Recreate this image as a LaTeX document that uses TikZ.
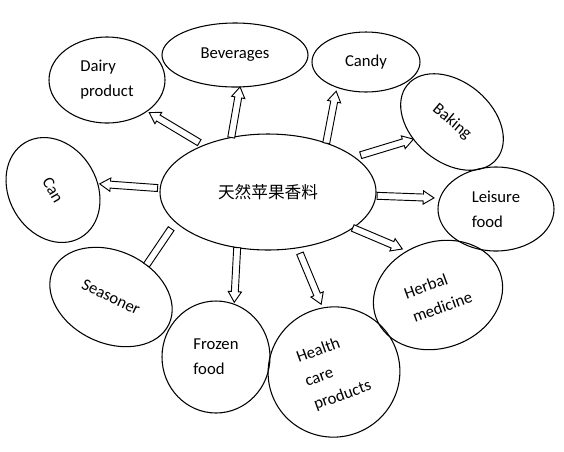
\documentclass[tikz,border=0pt]{standalone}
\usepackage{fontspec}
\setmainfont{Carlito}
\newfontfamily\cjk{Noto Sans CJK SC}
\usetikzlibrary{calc,shapes.geometric}

% hollow block arrow sizes
\newcommand\shafthw{2.6pt}
\newcommand\headhw{5pt}
\newcommand\headlen{8pt}

% block arrow: from anchor, to anchor, gap at start, gap at tip
\newcommand\blockarrow[4]{%
  \coordinate (ba-s) at ($(#1)!#3!(#2)$);
  \coordinate (ba-t) at ($(#2)!#4!(#1)$);
  \coordinate (ba-n) at ($(ba-t)!\headlen!(ba-s)$);
  \draw[blockarr] ($(ba-s)!\shafthw!90:(ba-t)$) -- ($(ba-n)!\shafthw!90:(ba-t)$)
    -- ($(ba-n)!\headhw!90:(ba-t)$) -- (ba-t) -- ($(ba-n)!\headhw!-90:(ba-t)$)
    -- ($(ba-n)!\shafthw!-90:(ba-t)$) -- ($(ba-s)!\shafthw!-90:(ba-t)$) -- cycle;
}
% block bar without head
\newcommand\blockbar[4]{%
  \coordinate (ba-s) at ($(#1)!#3!(#2)$);
  \coordinate (ba-t) at ($(#2)!#4!(#1)$);
  \draw[blockarr] ($(ba-s)!\shafthw!90:(ba-t)$) -- ($(ba-t)!\shafthw!-90:(ba-s)$)
    -- ($(ba-t)!\shafthw!90:(ba-s)$) -- ($(ba-s)!\shafthw!-90:(ba-t)$) -- cycle;
}

\begin{document}
\begin{tikzpicture}[
  x=0.75pt, y=-0.75pt,
  font=\fontsize{12.5}{18.75}\selectfont,
  % product ellipse
  bub/.style={ellipse, draw, line width=0.8pt, inner sep=0pt, outer sep=0pt,
              align=left},
  % hollow block arrow
  blockarr/.style={draw, line width=0.7pt, fill=white, line join=miter},
]
\useasboundingbox (0,0) rectangle (564,451);

%% ── Centre ───────────────────────────────────────────────────────────────
\node[bub, minimum width=162pt, minimum height=87pt] (flav) at (268,192)
  {\cjk 天然苹果香料};

%% ── Products ─────────────────────────────────────────────────────────────
\node[bub, minimum width=87pt, minimum height=64.5pt] (dairy) at (107,80)
  {Dairy\\product};
\node[bub, minimum width=109.5pt, minimum height=48pt] (bev) at (235,55)
  {Beverages};
\node[bub, minimum width=81pt, minimum height=45pt] (candy) at (366,62)
  {Candy};
\node[bub, minimum width=87pt, minimum height=60pt, rotate=-40] (baking) at (452,122)
  {Baking};
\node[bub, minimum width=87pt, minimum height=63pt] (leisure) at (496,209)
  {Leisure\\food};
\node[bub, minimum width=99pt, minimum height=79.5pt, rotate=20] (herbal) at (438,295)
  {Herbal\\medicine};
\node[bub, minimum width=99pt, minimum height=97.5pt, rotate=20] (health) at (334,372)
  {Health\\care\\products};
\node[bub, minimum width=81pt, minimum height=84pt] (frozen) at (216,357)
  {Frozen\\food};
\node[bub, minimum width=96pt, minimum height=69pt, rotate=-25] (season) at (111,297)
  {Seasoner};
\node[bub, minimum width=82.5pt, minimum height=66pt, rotate=-60] (can) at (53,190)
  {Can};

%% ── Block arrows ─────────────────────────────────────────────────────────
\blockarrow{flav.144}{dairy.-38}{4pt}{2pt}
\blockarrow{flav.124}{bev.-81}{0pt}{0pt}
\blockarrow{flav.40}{candy.221}{0pt}{3pt}
\blockarrow{flav.22}{baking.244}{5pt}{0pt}
\blockarrow{flav.-2.6}{leisure.169}{1pt}{4.5pt}
\blockarrow{flav.-23}{herbal.105}{0pt}{4pt}
\blockarrow{flav.-62}{health.80}{4.5pt}{3pt}
\blockarrow{flav.-119}{frozen.71}{0pt}{1.5pt}
\blockbar{flav.198}{season.67}{6pt}{0pt}
\blockarrow{flav.178.5}{can.68.5}{2pt}{1.5pt}

\end{tikzpicture}
\end{document}
